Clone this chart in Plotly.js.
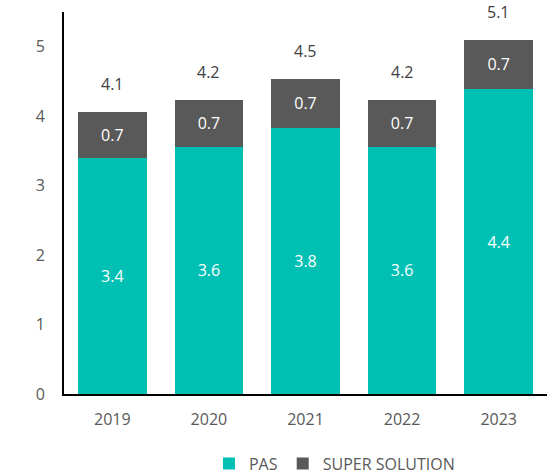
<!DOCTYPE html>
<html>
<head>
<meta charset="utf-8">
<script src="https://cdn.plot.ly/plotly-3.0.1.min.js"></script>
<style>html,body{margin:0;padding:0;background:#fff;}#chart{width:547px;height:476px;}</style>
</head>
<body>
<div id="chart"></div>
<script>
const years = ["2019", "2020", "2021", "2022", "2023"];
const pas = [3.40, 3.56, 3.83, 3.56, 4.39];
const superSolution = [0.66, 0.68, 0.71, 0.68, 0.71];
const totals = pas.map((v, i) => v + superSolution[i]);

const FONT = "Open Sans, sans-serif";
const FS = 16;

const traces = [
  {
    type: "bar", name: "PAS", x: years, y: pas,
    marker: {color: "#00BFB3"},
    texttemplate: "%{y:.1f}", textposition: "inside", insidetextanchor: "middle",
    textfont: {color: "#ffffff", size: FS, family: FONT}
  },
  {
    type: "bar", name: "SUPER SOLUTION", x: years, y: superSolution,
    marker: {color: "#595959"},
    texttemplate: "%{y:.1f}", textposition: "inside", insidetextanchor: "middle",
    textfont: {color: "#ffffff", size: FS, family: FONT}
  }
];

const annotations = years.map((yr, i) => ({
  x: i, y: totals[i], xref: "x", yref: "y",
  text: totals[i].toFixed(1), showarrow: false,
  yanchor: "middle", yshift: 28,
  font: {color: "#404040", size: FS, family: FONT}
}));

const layout = {
  width: 547, height: 476,
  margin: {l: 64, r: 0, t: 12, b: 82},
  paper_bgcolor: "#fff", plot_bgcolor: "#fff",
  barmode: "stack", bargap: 0.29,
  font: {family: FONT, color: "#595959", size: FS},
  xaxis: {
    type: "category", range: [-0.5, 4.5], showline: true, linecolor: "#000", linewidth: 2,
    ticks: "outside", ticklen: 10, tickcolor: "rgba(0,0,0,0)",
    tickfont: {size: FS, color: "#595959"}, showgrid: false
  },
  yaxis: {
    range: [0, 5.5], showline: true, linecolor: "#000", linewidth: 2,
    tickvals: [0, 1, 2, 3, 4, 5], ticks: "outside", ticklen: 14, tickcolor: "rgba(0,0,0,0)",
    showgrid: false, zeroline: false,
    tickfont: {size: FS, color: "#595959"}
  },
  showlegend: true,
  legend: {
    orientation: "h", x: 0.56, xanchor: "center",
    yref: "container", y: 0.026, yanchor: "middle",
    font: {size: FS, color: "#595959"}, traceorder: "normal"
  },
  annotations: annotations
};

Plotly.newPlot("chart", traces, layout, {displayModeBar: false});
</script>
</body>
</html>
